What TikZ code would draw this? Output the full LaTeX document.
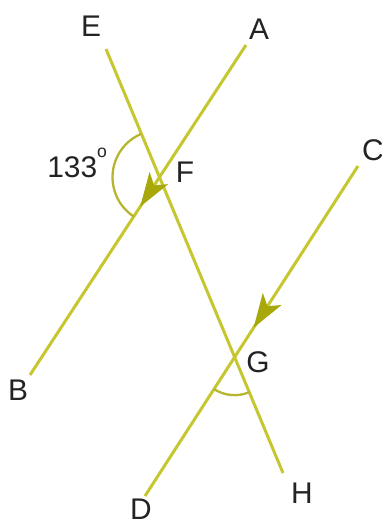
\documentclass[tikz,border=0pt]{standalone}
\usepackage{fontspec}
\setmainfont{Liberation Sans}
\usetikzlibrary{arrows.meta,decorations.markings}
\definecolor{linecolor}{RGB}{198,198,48}
\definecolor{tipcolor}{RGB}{168,168,10}
\definecolor{labelcolor}{RGB}{35,35,35}

\begin{document}
\begin{tikzpicture}[x=0.02cm, y=-0.02cm,
    every node/.style={font=\fontsize{17}{20}\selectfont, text=labelcolor, inner sep=0pt},
    geoline/.style={draw=linecolor, line width=1.7pt},
    anglearc/.style={draw=tipcolor!85!white, line width=1.3pt},
    midarrow/.style={postaction={decorate}, decoration={markings,
        mark=at position #1 with {\arrow[tipcolor]{Stealth[length=0.68cm,width=0.44cm,inset=0.17cm]}}}}]
  \useasboundingbox (0,0) rectangle (382,525);

  % end points of the three lines
  \coordinate (A) at (246,45);
  \coordinate (B) at (30,375);
  \coordinate (C) at (358,166);
  \coordinate (D) at (145,496);
  \coordinate (E) at (106,49);
  \coordinate (H) at (283,473);
  \coordinate (F) at (intersection of A--B and E--H);
  \coordinate (G) at (intersection of C--D and E--H);

  % the lines
  \draw[geoline] (E) -- (H);
  \draw[geoline, midarrow=0.49] (A) -- (B);
  \draw[geoline, midarrow=0.49] (C) -- (D);

  % angles
  \draw[anglearc] (F) ++(247:47) arc[start angle=247, end angle=123, radius=47];
  \draw[anglearc] (G) ++(123:38) arc[start angle=123, end angle=67.5, radius=38];

  % labels
  \node (labE) at (91,26) {E};
  \node (labA) at (259,29) {A};
  \node (labC) at (373,150) {C};
  \node (labF) at (185,172) {F};
  \node (labG) at (258,362) {G};
  \node (labB) at (18,390) {B};
  \node (labH) at (302,493) {H};
  \node (labD) at (141,509) {D};
  \node[anchor=base west] (labAngle) at (47,177) {133\raisebox{1.25ex}{\fontsize{10}{10}\selectfont o}};
\end{tikzpicture}
\end{document}
